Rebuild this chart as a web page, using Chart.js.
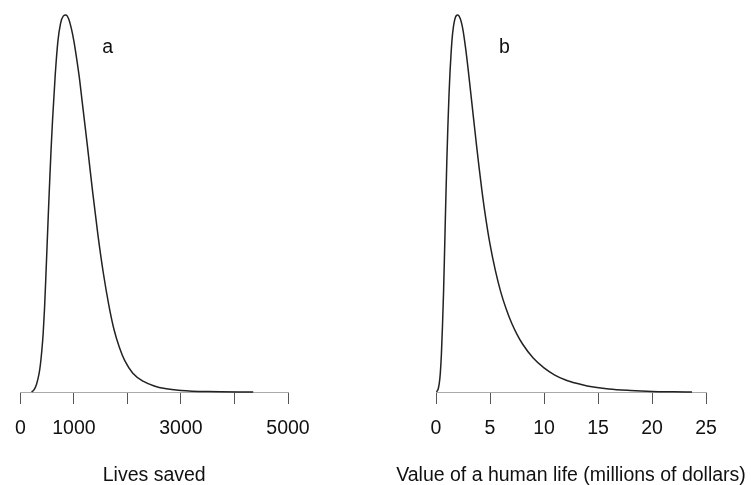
<!DOCTYPE html>
<html>
<head>
<meta charset="utf-8">
<script src="https://cdn.jsdelivr.net/npm/chart.js@4"></script>
<style>
  html, body { margin: 0; padding: 0; background: #fff; }
  #wrap { position: relative; width: 751px; height: 485px; overflow: hidden; }
  canvas { position: absolute; top: 0; }
  #livesChart { left: 0; }
  #valueChart { left: 375px; }
</style>
</head>
<body>
<div id="wrap">
  <canvas id="livesChart" width="375" height="485"></canvas>
  <canvas id="valueChart" width="376" height="485"></canvas>
</div>
<script>
// panel a: lives saved (relative density)
const livesX = [209, 250, 300, 350, 375, 400, 425, 450, 475, 500, 525, 550, 575, 600, 650, 700, 750, 800, 850, 900, 950, 1000, 1050, 1100, 1150, 1250, 1350, 1450, 1550, 1650, 1750, 1850, 1950, 2100, 2300, 2500, 2700, 3000, 3500, 4350];
const livesY = [0, 0.005, 0.02, 0.05, 0.075, 0.11, 0.155, 0.22, 0.305, 0.395, 0.485, 0.57, 0.65, 0.72, 0.84, 0.93, 0.978, 0.997, 1.0, 0.99, 0.965, 0.93, 0.885, 0.835, 0.775, 0.655, 0.53, 0.415, 0.315, 0.232, 0.165, 0.118, 0.083, 0.05, 0.028, 0.016, 0.009, 0.004, 0.001, 0];
const livesTicks = [0, 1000, 2000, 3000, 4000, 5000];
const livesLabels = [0, 1000, 3000, 5000];

// panel b: value of a human life, millions of dollars (relative density)
const valueX = [0.05, 0.2, 0.3, 0.4, 0.5, 0.6, 0.7, 0.8, 0.9, 1.0, 1.1, 1.2, 1.3, 1.4, 1.5, 1.6, 1.7, 1.8, 1.9, 2.0, 2.25, 2.5, 2.75, 3.0, 3.25, 3.5, 3.75, 4.0, 4.25, 4.5, 5.0, 5.5, 6.0, 6.5, 7.0, 7.5, 8.0, 9.0, 10.0, 11.0, 12.0, 13.0, 14.0, 16.0, 18.0, 20.0, 22.0, 23.7];
const valueY = [0, 0.008, 0.022, 0.05, 0.1, 0.175, 0.265, 0.38, 0.5, 0.61, 0.705, 0.785, 0.85, 0.9, 0.94, 0.966, 0.983, 0.994, 0.999, 1.0, 0.99, 0.96, 0.91, 0.85, 0.785, 0.72, 0.655, 0.593, 0.535, 0.482, 0.392, 0.322, 0.265, 0.22, 0.183, 0.153, 0.128, 0.09, 0.064, 0.045, 0.032, 0.023, 0.016, 0.008, 0.004, 0.0015, 0.0005, 0];
const valueTicks = [0, 5, 10, 15, 20, 25];

const textFont = '19.5px "Liberation Sans", Arial, sans-serif';

const panelText = {
    id: 'panelText',
    afterDraw(chart, args, opts) {
        const ctx = chart.ctx;
        const xs = chart.scales.x;
        ctx.save();
        ctx.font = textFont;
        ctx.fillStyle = '#111';
        ctx.textAlign = 'center';
        ctx.textBaseline = 'alphabetic';
        ctx.fillText(opts.title, (xs.left + xs.right) / 2, 481);
        ctx.fillText(opts.letter, xs.getPixelForValue(opts.letterAt), 53);
        ctx.restore();
    }
};

function makeChart(id, xs, ys, ticks, labels, maxX, pad, title, letter, letterAt) {
    const ctx = document.getElementById(id).getContext('2d');
    return new Chart(ctx, {
        type: 'line',
        data: {
            datasets: [{
                data: xs.map((x, i) => ({ x: x, y: ys[i] })),
                borderColor: '#222',
                borderWidth: 1.5,
                pointRadius: 0,
                fill: false,
                cubicInterpolationMode: 'monotone',
                clip: false
            }]
        },
        options: {
            responsive: false,
            animation: false,
            layout: { padding: pad },
            plugins: {
                legend: { display: false },
                tooltip: { enabled: false },
                panelText: { title: title, letter: letter, letterAt: letterAt }
            },
            scales: {
                x: {
                    type: 'linear',
                    min: 0,
                    max: maxX,
                    afterBuildTicks: s => { s.ticks = ticks.map(v => ({ value: v })); },
                    afterFit: s => { s.height = 93; },
                    grid: {
                        drawOnChartArea: false,
                        drawTicks: true,
                        tickLength: 12,
                        color: '#555',
                        lineWidth: 1
                    },
                    border: { display: true, color: '#aaa', width: 1 },
                    ticks: {
                        autoSkip: false,
                        maxRotation: 0,
                        padding: 15,
                        color: '#111',
                        font: { family: '"Liberation Sans", Arial, sans-serif', size: 19.5, lineHeight: '20px' },
                        callback: v => labels.includes(v) ? String(v) : ''
                    }
                },
                y: { display: false, min: 0, max: 1 }
            }
        },
        plugins: [panelText]
    });
}

makeChart('livesChart', livesX, livesY, livesTicks, livesLabels, 5000,
    { left: 18, right: 87, top: 15, bottom: 0 }, 'Lives saved', 'a', 1630);
makeChart('valueChart', valueX, valueY, valueTicks, valueTicks, 25,
    { left: 61, right: 45, top: 15, bottom: 0 }, 'Value of a human life (millions of dollars)', 'b', 6.34);
</script>
</body>
</html>
